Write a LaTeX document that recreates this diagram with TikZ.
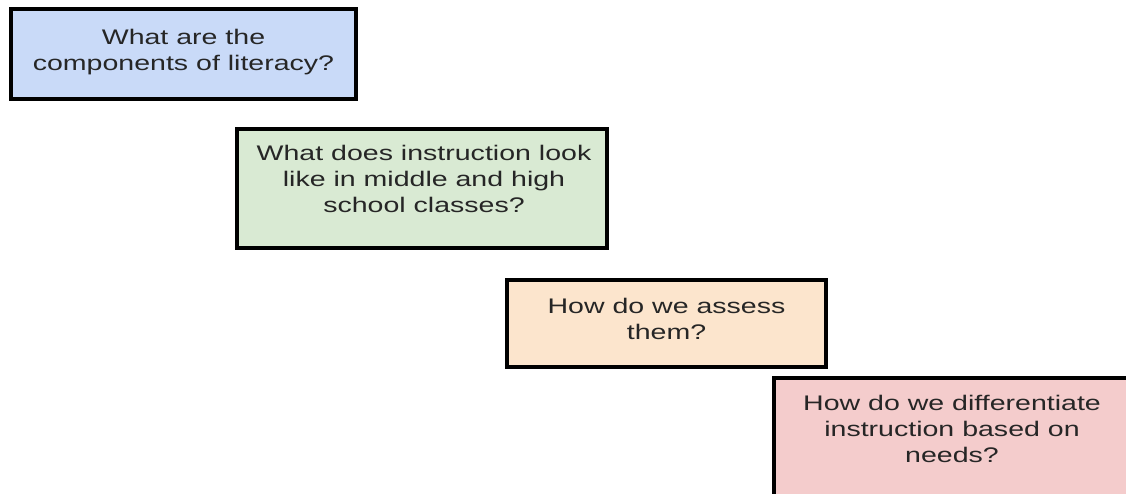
\documentclass[tikz,border=0pt]{standalone}
\usepackage{fontspec}
\setmainfont{Liberation Sans}
\usepackage{graphicx}
\newlength\px
\setlength\px{0.75pt}
\definecolor{qblue}{HTML}{C9DAF8}
\definecolor{qgreen}{HTML}{D9EAD3}
\definecolor{qorange}{HTML}{FCE5CD}
\definecolor{qpink}{HTML}{F4CCCC}
\definecolor{qtextcol}{HTML}{262626}
\newcommand{\qlines}[1]{\scalebox{1}[0.74]{\fontsize{21.4}{26.35}\selectfont\begin{tabular}{@{}c@{}}#1\end{tabular}}}
\tikzset{
  qbox/.style={draw=black, line width=4\px, rectangle, inner sep=0pt},
  qtext/.style={inner sep=0pt, text=qtextcol},
}
\begin{document}
\begin{tikzpicture}[x=0.75pt, y=-0.75pt]
\useasboundingbox (0,0) rectangle (1126,493);
\fill[white] (0,0) rectangle (1126,493);
\clip (0,0) rectangle (1126,493);
\node[qbox, fill=qblue, minimum width=345\px, minimum height=90\px] (b1) at (183.5,54) {};
\node[qbox, fill=qgreen, minimum width=370\px, minimum height=119\px] (b2) at (422,188.5) {};
\node[qbox, fill=qorange, minimum width=319\px, minimum height=87\px] (b3) at (666.5,323.5) {};
\node[qbox, fill=qpink, minimum width=366\px, minimum height=132\px] (b4) at (957,444) {};
\node[qtext] (t1) at (183.5,51.8) {\qlines{What are the\\components of literacy?}};
\node[qtext] (t2) at (424,180.8) {\qlines{What does instruction look\\like in middle and high\\school classes?}};
\node[qtext] (t3) at (666.5,320.8) {\qlines{How do we assess\\them?}};
\node[qtext] (t4) at (952,430.8) {\qlines{How do we differentiate\\instruction based on\\needs?}};
\end{tikzpicture}
\end{document}
